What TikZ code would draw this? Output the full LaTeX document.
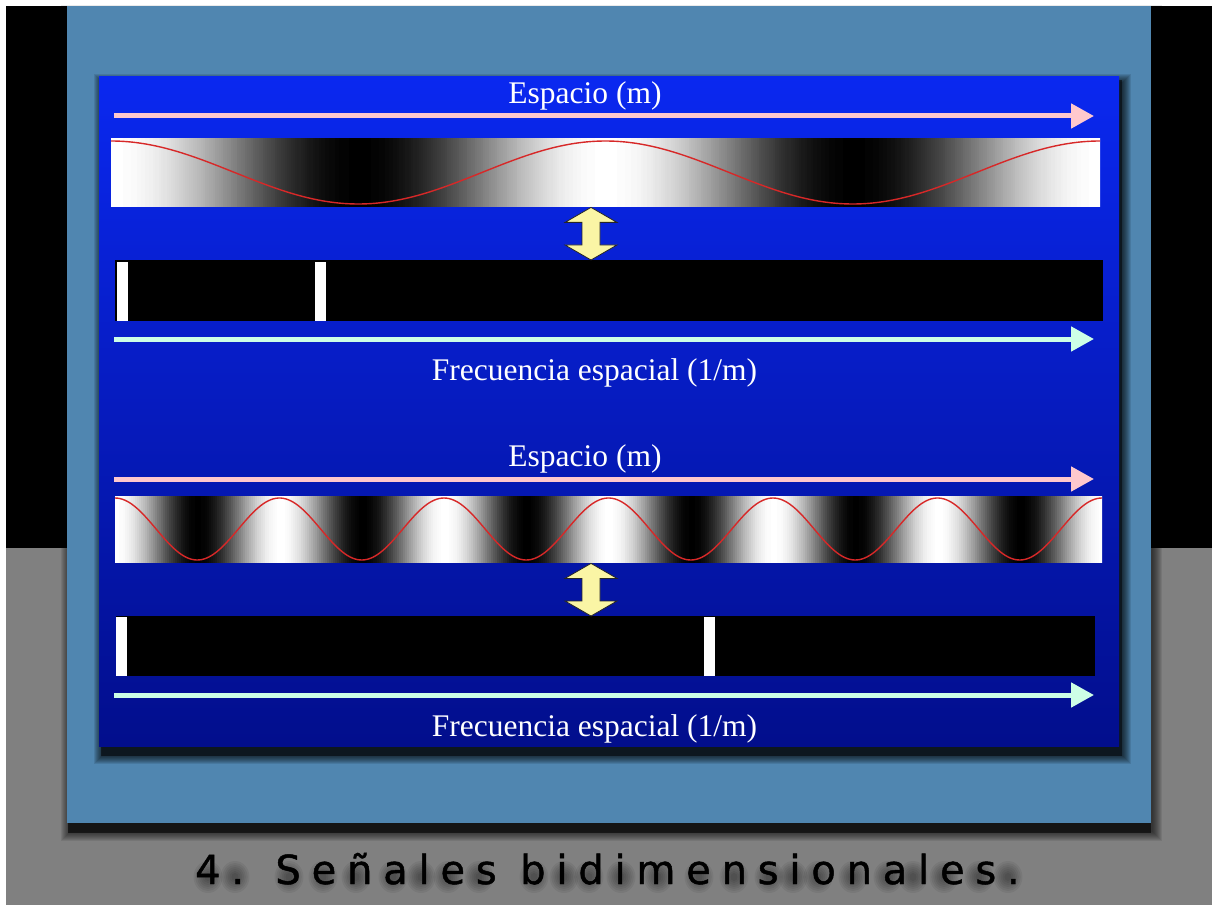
\documentclass[tikz,border=0pt]{standalone}
\usepackage{fontspec}
\setmainfont{Liberation Serif}
\newfontfamily\capfont[LetterSpace=27,FakeBold=1.2]{DejaVu Sans}
\usetikzlibrary{arrows.meta,calc}

\definecolor{pagegray}{RGB}{128,128,128}
\definecolor{slate}{RGB}{80,134,176}
\definecolor{bluetop}{RGB}{10,40,240}
\definecolor{bluemid}{RGB}{8,28,190}
\definecolor{bluebot}{RGB}{2,14,140}
\definecolor{pinkaxis}{RGB}{255,200,205}
\definecolor{mintaxis}{RGB}{205,255,230}
\definecolor{curvered}{RGB}{215,40,40}
\definecolor{arrowyellow}{RGB}{250,245,165}

\tikzset{
  axisarrow/.style={line width=5pt, -{Triangle[length=23pt,width=24pt]}},
  lbl/.style={text=white, font=\fontsize{31.5}{36}\selectfont, inner sep=0pt},
  capstyle/.style={font=\capfont\fontsize{40}{44}\selectfont, inner sep=0pt, anchor=base west},
  strip/.style={inner sep=0pt, anchor=north west, draw=none},
  wavecurve/.style={curvered, line width=1.4pt},
  fatarrow/.style={fill=arrowyellow, draw=black!85, line width=0.8pt, line join=miter},
}

% block double arrow between two points (top, bottom)
\newcommand\fatdouble[2]{%
  \path[fatarrow] (#1) -- ++(26,15) -- ++(-17,0) -- ($(#2)+(9,-15)$) -- ++(17,0)
    -- (#2) -- ++(-26,-15) -- ++(17,0) -- ($(#1)+(-9,15)$) -- ++(-17,0) -- cycle;}

\begin{document}
\begin{tikzpicture}[x=1pt,y=-1pt]
\useasboundingbox (0,0) rectangle (1212,909);

% page background
\fill[white] (0,0) rectangle (1212,909);
\fill[black] (6,6) rectangle (1212,548);
\fill[pagegray] (6,548) rectangle (1212,905);

% shadow of the slate panel
\foreach \k in {0,...,9}
  \fill[black, opacity=0.08] (70-\k,14-\k) rectangle (1153+\k,832+\k);
\fill[black, opacity=0.6] (68,12) rectangle (1151,833);

% slate panel
\fill[slate] (67,6) rectangle (1151,823);

% shadow of the blue panel
\foreach \k in {0,...,8}
  \fill[black, opacity=0.1] (102-\k,82-\k) rectangle (1123+\k,756+\k);
\fill[black, opacity=0.5] (101,80) rectangle (1122,756);

% blue panel
\shade[top color=bluetop, middle color=bluemid, bottom color=bluebot] (99,77) rectangle (1119,746);

\coordinate (ax) at (591,0);

% ---------- upper example: two cycles ----------
\node[lbl, anchor=base] (sp1) at (585,104) {Espacio (m)};
\coordinate (p1a) at (114,116);
\coordinate (p1b) at (1094,116);
\draw[axisarrow, pinkaxis] (p1a) -- (p1b);

\begin{scope}
  \clip (111,138) rectangle (1100,207);
  \foreach \i in {0,2,...,988} {
    \pgfmathtruncatemacro\g{round(50+50*cos(\i/494.5*360))}
    \fill[white!\g!black] (111+\i,138) rectangle (113.6+\i,207);
  }
\end{scope}
\node[strip, minimum width=989pt, minimum height=69pt] (wave1) at (111,138) {};
\draw[wavecurve] plot[domain=0:989, samples=240] ({111+\x},{172.5-31.5*cos(\x/494.5*360)});

\node[strip, fill=black, minimum width=988pt, minimum height=61pt] (spec1) at (115,260) {};
\fill[white] (117,262) rectangle (128,321);
\fill[white] (315,262) rectangle (326,321);

\coordinate (d1t) at (wave1.south -| ax);
\coordinate (d1b) at (spec1.north -| ax);
\fatdouble{d1t}{d1b}

\coordinate (f1a) at (114,339);
\coordinate (f1b) at (1094,339);
\draw[axisarrow, mintaxis] (f1a) -- (f1b);
\node[lbl, anchor=base] (fr1) at (594.5,380) {Frecuencia espacial (1/m)};

% ---------- lower example: six cycles ----------
\node[lbl, anchor=base] (sp2) at (585,466) {Espacio (m)};
\coordinate (p2a) at (114,479);
\coordinate (p2b) at (1094,479);
\draw[axisarrow, pinkaxis] (p2a) -- (p2b);

\begin{scope}
  \clip (115,496) rectangle (1102,563);
  \foreach \i in {0,2,...,988} {
    \pgfmathtruncatemacro\g{round(50+50*cos(\i/164.5*360))}
    \fill[white!\g!black] (115+\i,496) rectangle (117.6+\i,563);
  }
\end{scope}
\node[strip, minimum width=987pt, minimum height=67pt] (wave2) at (115,496) {};
\draw[wavecurve] plot[domain=0:987, samples=400] ({115+\x},{529-31*cos(\x/164.5*360)});

\node[strip, fill=black, minimum width=979pt, minimum height=60pt] (spec2) at (116,616) {};
\fill[white] (116,617) rectangle (127,676);
\fill[white] (704,617) rectangle (715,676);

\coordinate (d2t) at (wave2.south -| ax);
\coordinate (d2b) at (spec2.north -| ax);
\fatdouble{d2t}{d2b}

\coordinate (f2a) at (114,695);
\coordinate (f2b) at (1094,695);
\draw[axisarrow, mintaxis] (f2a) -- (f2b);
\node[lbl, anchor=base] (fr2) at (594.5,736) {Frecuencia espacial (1/m)};

% ---------- caption with soft shadow blobs under each glyph ----------
\foreach \cx in {212,239,293,327,360,397,425,452,483,538,568,593,625,662,703,738,773,797,822,857,892,917,948,983,1012}
  \foreach \r in {4,6,...,16}
    \fill[black, opacity=0.06] (\cx-4,877) ellipse ({\r*0.9} and \r);
\node[capstyle, text=black] (caption) at (195,884) {4. Señales bidimensionales.};
\end{tikzpicture}
\end{document}
